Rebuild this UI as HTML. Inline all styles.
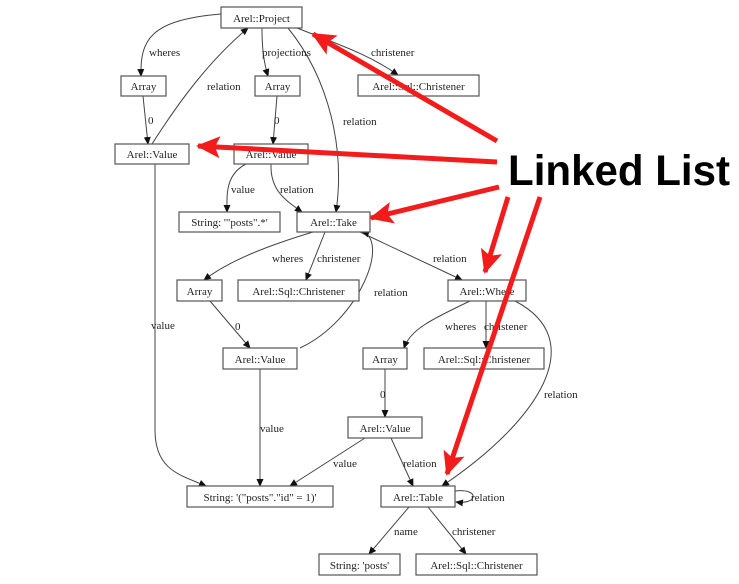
<!DOCTYPE html>
<html><head><meta charset="utf-8"><style>
html,body{margin:0;padding:0;background:#fff;}
svg{display:block}
text{font-family:"Liberation Serif",serif;font-size:11px;fill:#222}
.b{fill:#fff;stroke:#555;stroke-width:1.2}
.e{fill:none;stroke:#444;stroke-width:1}
.r{stroke:#f21c1c;stroke-width:5;fill:none}
</style></head><body>
<svg width="739" height="584" viewBox="0 0 739 584">
<defs>
<marker id="a" markerWidth="8" markerHeight="8" refX="7" refY="4" orient="auto" markerUnits="userSpaceOnUse"><path d="M0,0.5 L8,4 L0,7.5z" fill="#111"/></marker>
<marker id="ra" markerWidth="24" markerHeight="22" refX="22" refY="11" orient="auto" markerUnits="userSpaceOnUse"><path d="M0,0 L24,11 L0,22 L5,11z" fill="#f21c1c"/></marker>
</defs>
<g class="e" marker-end="url(#a)">
<path d="M221,14 C150,20 140,40 141,76"/>
<path d="M262,28 C262,45 263,60 268,76"/>
<path d="M297,28 C340,45 370,55 398,75"/>
<path d="M288,28 C330,80 345,150 336,212"/>
<path d="M152,144 C180,100 210,60 248,28"/>
<path d="M143,96 L148,144"/>
<path d="M277,96 L273,144"/>
<path d="M246,164 C225,175 227,195 227,212"/>
<path d="M271,164 C270,190 285,200 302,212"/>
<path d="M155,164 L155,430 C155,470 180,475 206,486"/>
<path d="M313,232 C270,245 230,260 204,280"/>
<path d="M325,232 L306,280"/>
<path d="M360,232 L462,280"/>
<path d="M300,348 C360,320 390,240 362,232"/>
<path d="M210,301 L250,348"/>
<path d="M260,369 L260,486"/>
<path d="M470,301 C430,320 410,330 404,348"/>
<path d="M486,301 L486,348"/>
<path d="M515,301 C590,340 540,420 442,486"/>
<path d="M385,369 L385,417"/>
<path d="M365,438 L290,486"/>
<path d="M391,438 L413,486"/>
<path d="M409,507 L369,554"/>
<path d="M428,507 L466,554"/>
<path d="M455,491 C480,488 478,505 456,502"/>
</g>
<g>
<rect class="b" x="221" y="7" width="81" height="21"/><text x="261.5" y="22" text-anchor="middle">Arel::Project</text>
<rect class="b" x="121" y="76" width="45" height="20"/><text x="143.5" y="90" text-anchor="middle">Array</text>
<rect class="b" x="255" y="76" width="45" height="20"/><text x="277.5" y="90" text-anchor="middle">Array</text>
<rect class="b" x="358" y="75" width="121" height="21"/><text x="418.5" y="90" text-anchor="middle">Arel::Sql::Christener</text>
<rect class="b" x="115" y="144" width="74" height="20"/><text x="152" y="158" text-anchor="middle">Arel::Value</text>
<rect class="b" x="234" y="144" width="74" height="20"/><text x="271" y="158" text-anchor="middle">Arel::Value</text>
<rect class="b" x="179" y="212" width="101" height="20"/><text x="229.5" y="226" text-anchor="middle">String: '"posts".*'</text>
<rect class="b" x="297" y="212" width="73" height="20"/><text x="333.5" y="226" text-anchor="middle">Arel::Take</text>
<rect class="b" x="177" y="280" width="45" height="21"/><text x="199.5" y="295" text-anchor="middle">Array</text>
<rect class="b" x="238" y="280" width="121" height="21"/><text x="298.5" y="295" text-anchor="middle">Arel::Sql::Christener</text>
<rect class="b" x="448" y="280" width="78" height="21"/><text x="487" y="295" text-anchor="middle">Arel::Where</text>
<rect class="b" x="223" y="348" width="74" height="21"/><text x="260" y="363" text-anchor="middle">Arel::Value</text>
<rect class="b" x="363" y="348" width="44" height="21"/><text x="385" y="363" text-anchor="middle">Array</text>
<rect class="b" x="424" y="348" width="120" height="21"/><text x="484" y="363" text-anchor="middle">Arel::Sql::Christener</text>
<rect class="b" x="348" y="417" width="74" height="21"/><text x="385" y="432" text-anchor="middle">Arel::Value</text>
<rect class="b" x="187" y="486" width="146" height="21"/><text x="260" y="501" text-anchor="middle">String: '("posts"."id" = 1)'</text>
<rect class="b" x="381" y="486" width="74" height="21"/><text x="418" y="501" text-anchor="middle">Arel::Table</text>
<rect class="b" x="319" y="554" width="81" height="21"/><text x="359.5" y="569" text-anchor="middle">String: 'posts'</text>
<rect class="b" x="416" y="554" width="121" height="21"/><text x="476.5" y="569" text-anchor="middle">Arel::Sql::Christener</text>
</g>
<g>
<text x="149" y="56">wheres</text>
<text x="262" y="56">projections</text>
<text x="371" y="56">christener</text>
<text x="207" y="90">relation</text>
<text x="343" y="125">relation</text>
<text x="148" y="124">0</text>
<text x="274" y="124">0</text>
<text x="231" y="193">value</text>
<text x="280" y="193">relation</text>
<text x="272" y="262">wheres</text>
<text x="317" y="262">christener</text>
<text x="433" y="262">relation</text>
<text x="374" y="296">relation</text>
<text x="235" y="330">0</text>
<text x="151" y="329">value</text>
<text x="445" y="330">wheres</text>
<text x="484" y="330">christener</text>
<text x="544" y="398">relation</text>
<text x="380" y="398">0</text>
<text x="260" y="432">value</text>
<text x="333" y="467">value</text>
<text x="403" y="467">relation</text>
<text x="471" y="501">relation</text>
<text x="394" y="535">name</text>
<text x="452" y="535">christener</text>
</g>
<g class="r" marker-end="url(#ra)">
<path d="M497,141 L313,34"/>
<path d="M497,162 L198,146"/>
<path d="M499,187 L371,218"/>
<path d="M508,197 L485,272"/>
<path d="M540,197 L447,474"/>
</g>
<text x="508" y="185" style="font-family:'Liberation Sans',sans-serif;font-weight:bold;font-size:43px;fill:#000" textLength="222" lengthAdjust="spacingAndGlyphs">Linked List</text>
</svg>
</body></html>
